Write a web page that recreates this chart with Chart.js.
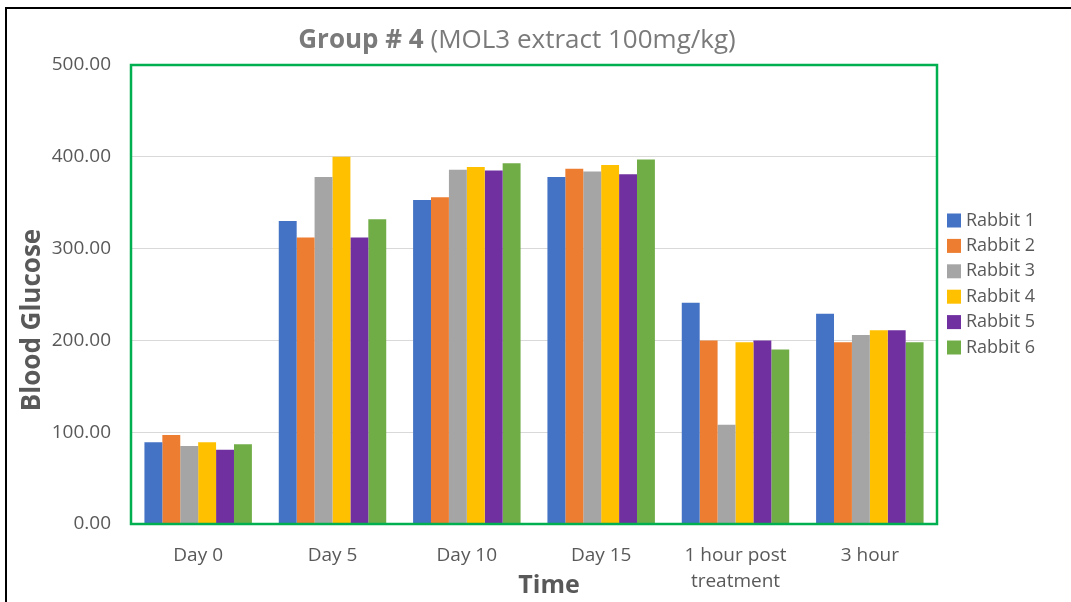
<!DOCTYPE html>
<html>
<head>
<meta charset="utf-8">
<script src="https://cdn.jsdelivr.net/npm/chart.js@4"></script>
<style>
  body { margin: 0; background: #fff; }
  #wrap { width: 1071px; height: 602px; }
</style>
</head>
<body>
<div id="wrap"><canvas id="myChart" width="1071" height="602"></canvas></div>
<script>
var categories = ['Day 0', 'Day 5', 'Day 10', 'Day 15', ['1 hour post', 'treatment'], '3 hour'];
var rabbit1 = [89, 330, 353, 378, 241, 229];
var rabbit2 = [97, 312, 356, 387, 200, 198];
var rabbit3 = [85, 378, 386, 384, 108, 206];
var rabbit4 = [89, 400, 389, 391, 198, 211];
var rabbit5 = [81, 312, 385, 381, 200, 211];
var rabbit6 = [87, 332, 393, 397, 190, 198];
var seriesNames = ['Rabbit 1', 'Rabbit 2', 'Rabbit 3', 'Rabbit 4', 'Rabbit 5', 'Rabbit 6'];
var seriesColors = ['#4472C4', '#ED7D31', '#A5A5A5', '#FFC000', '#7030A0', '#70AD47'];
var allSeries = [rabbit1, rabbit2, rabbit3, rabbit4, rabbit5, rabbit6];

var textGray = '#595959';
var fontName = '"Open Sans", "Liberation Sans", sans-serif';

var datasets = allSeries.map(function(values, i) {
  return {
    label: seriesNames[i],
    backgroundColor: seriesColors[i],
    data: values,
    categoryPercentage: 0.8,
    barPercentage: 1.0
  };
});

// black frame, green plot border, titles and legend
var decorations = {
  id: 'decorations',
  afterDraw: function(chart) {
    var ctx = chart.ctx;
    var area = chart.chartArea;
    ctx.save();

    ctx.fillStyle = '#000';
    ctx.fillRect(5, 7, 2, 602);
    ctx.fillRect(5, 7, 1071, 2);

    ctx.strokeStyle = '#00B050';
    ctx.lineWidth = 2.5;
    ctx.strokeRect(area.left, area.top, area.right - area.left, area.bottom - area.top);

    // chart title: bold part + normal part
    var boldPart = 'Group # 4';
    var normalPart = ' (MOL3 extract 100mg/kg)';
    ctx.fillStyle = '#7a7a7a';
    ctx.textBaseline = 'middle';
    ctx.font = 'bold 26px ' + fontName;
    var w1 = ctx.measureText(boldPart).width;
    ctx.font = '26px ' + fontName;
    var w2 = ctx.measureText(normalPart).width;
    var startX = 517 - (w1 + w2) / 2;
    ctx.textAlign = 'left';
    ctx.font = 'bold 26px ' + fontName;
    ctx.fillText(boldPart, startX, 41);
    ctx.font = '26px ' + fontName;
    ctx.fillText(normalPart, startX + w1, 41);

    // axis titles
    ctx.fillStyle = textGray;
    ctx.textAlign = 'center';
    ctx.font = 'bold 25px ' + fontName;
    ctx.fillText('Time', 549, 586);
    ctx.save();
    ctx.translate(33, 320);
    ctx.rotate(-Math.PI / 2);
    ctx.font = 'bold 26px ' + fontName;
    ctx.fillText('Blood Glucose', 0, 0);
    ctx.restore();

    // legend
    ctx.textAlign = 'left';
    ctx.font = '18px ' + fontName;
    chart.data.datasets.forEach(function(ds, i) {
      var y = 220.5 + i * 25.4;
      ctx.fillStyle = ds.backgroundColor;
      ctx.fillRect(947, y - 7, 14, 14);
      ctx.fillStyle = textGray;
      ctx.fillText(ds.label, 966, y);
    });
    ctx.restore();
  }
};

var options = {
  responsive: false,
  animation: false,
  devicePixelRatio: 1,
  layout: {
    padding: { top: 65, right: 134, bottom: 0, left: 0 }
  },
  scales: {
    x: {
      grid: { display: false, drawTicks: false },
      border: { display: false },
      ticks: {
        color: textGray,
        padding: 19,
        font: { family: fontName, size: 19, lineHeight: 1.35 }
      },
      afterFit: function(scale) { scale.height = 78; }
    },
    y: {
      min: 0,
      max: 500,
      grid: { color: '#d9d9d9', drawTicks: false },
      border: { display: false },
      ticks: {
        stepSize: 100,
        color: textGray,
        padding: 20,
        font: { family: fontName, size: 19 },
        callback: function(value) {
          return value.toFixed(2);
        }
      },
      afterFit: function(scale) { scale.width = 131; }
    }
  },
  plugins: {
    legend: { display: false },
    title: { display: false },
    tooltip: { enabled: false }
  }
};

var ctx = document.getElementById('myChart').getContext('2d');
var groupChart = new Chart(ctx, {
  type: 'bar',
  data: { labels: categories, datasets: datasets },
  options: options,
  plugins: [decorations]
});
</script>
</body>
</html>
